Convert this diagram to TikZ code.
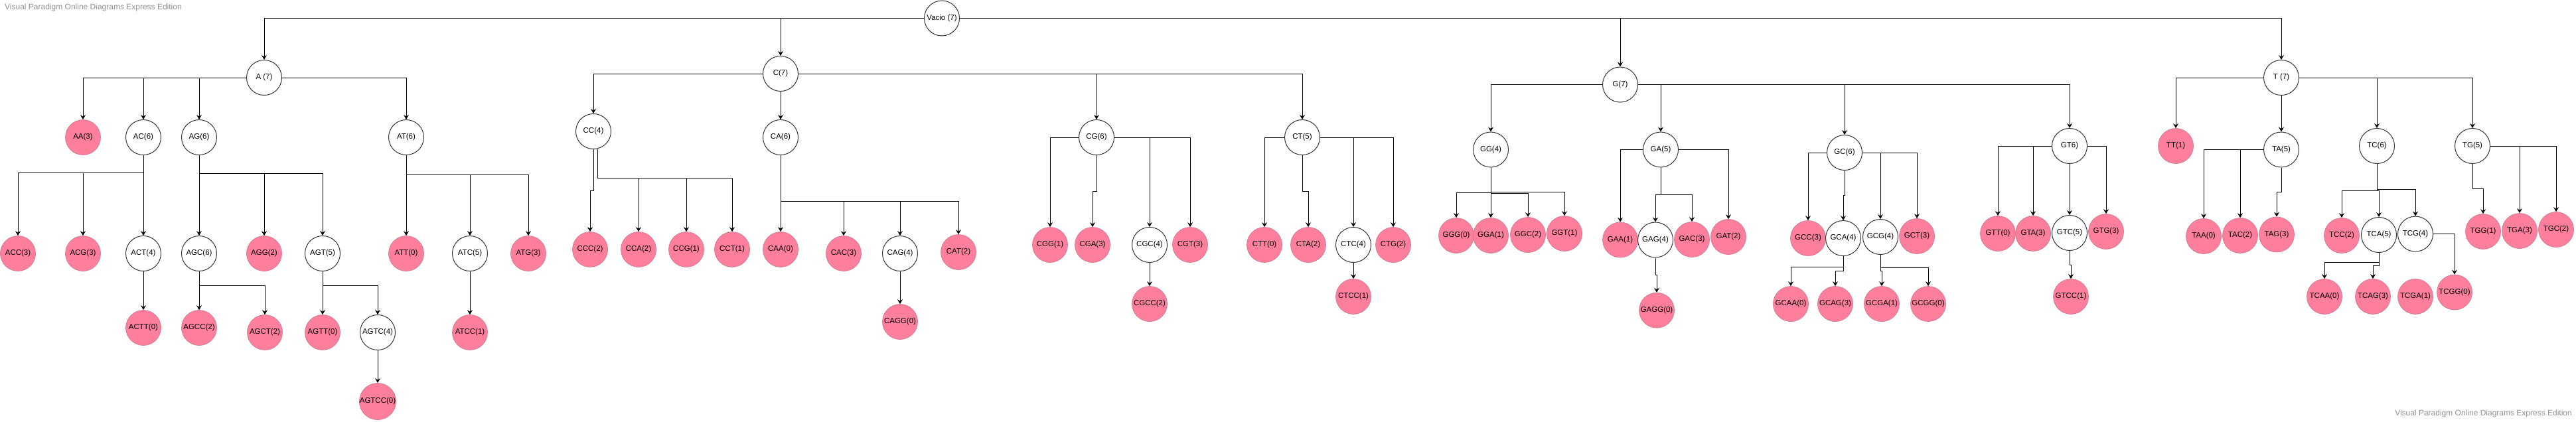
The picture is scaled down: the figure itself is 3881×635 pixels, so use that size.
\documentclass[tikz,border=0pt]{standalone}
\usepackage{fontspec}
\setmainfont{Liberation Sans}
\usetikzlibrary{arrows.meta}
\definecolor{pinkfill}{RGB}{254,127,156}
\definecolor{pinkdraw}{RGB}{205,120,145}
\definecolor{wmgray}{RGB}{145,145,145}
\begin{document}
\begin{tikzpicture}[x=1pt,y=-1pt,
  wn/.style={circle, draw=black!80, line width=1pt, fill=white, minimum size=53pt, inner sep=0pt, font=\fontsize{11.5}{12}\selectfont},
  pn/.style={wn, fill=pinkfill, draw=pinkdraw, line width=0.7pt},
  arr/.style={-{Stealth[length=7pt,width=8pt,inset=2.5pt]}, line width=0.9pt},
  bus/.style={to path={-- ++(0,#1) -| (\tikztotarget)}},
  wmark/.style={text=wmgray, font=\fontsize{12}{13}\selectfont, inner sep=0pt}]
\fill[white] (0,0) rectangle (3881,635);
\useasboundingbox (0,0) rectangle (3881,635);
\node[wmark, anchor=west] (wm1) at (7,11) {Visual Paradigm Online Diagrams Express Edition};
\node[wmark, anchor=east] (wm2) at (3875,623) {Visual Paradigm Online Diagrams Express Edition};
% root and level 1
\node[wn] (V) at (1419,27.5) {Vacio (7)};
\node[wn] (A) at (398,117) {A (7)};
\node[wn] (C) at (1176,111) {C(7)};
\node[wn] (G) at (2441,127.5) {G(7)};
\node[wn] (T) at (3437,117) {T (7)};
% A subtree
\node[pn] (AA) at (125,207) {AA(3)};
\node[wn] (AC) at (216,207) {AC(6)};
\node[wn] (AG) at (300,207) {AG(6)};
\node[wn] (AT) at (612,207) {AT(6)};
\node[pn] (ACC) at (27,382) {ACC(3)};
\node[pn] (ACG) at (125,382) {ACG(3)};
\node[wn] (ACT) at (216,382) {ACT(4)};
\node[wn] (AGC) at (300,382) {AGC(6)};
\node[pn] (AGG) at (398,382) {AGG(2)};
\node[wn] (AGT) at (486,382) {AGT(5)};
\node[pn] (ACTT) at (216,494) {ACTT(0)};
\node[pn] (AGCC) at (300,494) {AGCC(2)};
\node[pn] (AGCT) at (399,501) {AGCT(2)};
\node[pn] (AGTT) at (486,501) {AGTT(0)};
\node[wn] (AGTC) at (569,501) {AGTC(4)};
\node[pn] (AGTCC) at (569,605) {AGTCC(0)};
\node[pn] (ATT) at (612,382) {ATT(0)};
\node[wn] (ATC) at (708,382) {ATC(5)};
\node[pn] (ATG) at (796,382) {ATG(3)};
\node[pn] (ATCC) at (708,501) {ATCC(1)};
% C subtree
\node[wn] (CC) at (894,198) {CC(4)};
\node[wn] (CA) at (1176,207) {CA(6)};
\node[wn] (CG) at (1652,207) {CG(6)};
\node[wn] (CT) at (1962,207) {CT(5)};
\node[pn] (CCC) at (889,376) {CCC(2)};
\node[pn] (CCA) at (962,376) {CCA(2)};
\node[pn] (CCG) at (1034,376) {CCG(1)};
\node[pn] (CCT) at (1103,376) {CCT(1)};
\node[pn] (CAA) at (1176,376) {CAA(0)};
\node[pn] (CAC) at (1271,382) {CAC(3)};
\node[wn] (CAG) at (1356,382) {CAG(4)};
\node[pn] (CAT) at (1444,380) {CAT(2)};
\node[pn] (CAGG) at (1356,485) {CAGG(0)};
\node[pn] (CGG) at (1582,369) {CGG(1)};
\node[pn] (CGA) at (1646,369) {CGA(3)};
\node[wn] (CGC) at (1732,369) {CGC(4)};
\node[pn] (CGT) at (1793,369) {CGT(3)};
\node[pn] (CGCC) at (1732,458) {CGCC(2)};
\node[pn] (CTT) at (1905,369) {CTT(0)};
\node[pn] (CTA) at (1971,369) {CTA(2)};
\node[wn] (CTC) at (2039,369) {CTC(4)};
\node[pn] (CTG) at (2099,369) {CTG(2)};
\node[pn] (CTCC) at (2039,447) {CTCC(1)};
% G subtree
\node[wn] (GG) at (2246,225.5) {GG(4)};
\node[pn] (GGG) at (2194,355) {GGG(0)};
\node[pn] (GGA) at (2246,355) {GGA(1)};
\node[pn] (GGC) at (2302,354) {GGC(2)};
\node[pn] (GGT) at (2357,352) {GGT(1)};
\node[wn] (GA) at (2502,225.5) {GA(5)};
\node[pn] (GAA) at (2441,361.5) {GAA(1)};
\node[wn] (GAG) at (2494,361.5) {GAG(4)};
\node[pn] (GAC) at (2549,361) {GAC(3)};
\node[pn] (GAT) at (2604,357) {GAT(2)};
\node[pn] (GAGG) at (2496,467.6) {GAGG(0)};
\node[wn] (GC) at (2779,230) {GC(6)};
\node[pn] (GCC) at (2724,359) {GCC(3)};
\node[wn] (GCA) at (2777,359) {GCA(4)};
\node[wn] (GCG) at (2833,357) {GCG(4)};
\node[pn] (GCT) at (2888,356) {GCT(3)};
\node[pn] (GCAA) at (2698,458) {GCAA(0)};
\node[pn] (GCAG) at (2765,458) {GCAG(3)};
\node[pn] (GCGA) at (2835,458) {GCGA(1)};
\node[pn] (GCGG) at (2905,458) {GCGG(0)};
\node[wn] (GT) at (3118,220) {GT6)};
\node[pn] (GTT) at (3010,352) {GTT(0)};
\node[pn] (GTA) at (3063,352) {GTA(3)};
\node[wn] (GTC) at (3118,351) {GTC(5)};
\node[pn] (GTG) at (3173,349) {GTG(3)};
\node[pn] (GTCC) at (3120,447) {GTCC(1)};
% T subtree
\node[pn] (TT) at (3278,220) {TT(1)};
\node[wn] (TA) at (3437,225.5) {TA(5)};
\node[pn] (TAA) at (3320,356) {TAA(0)};
\node[pn] (TAC) at (3375,355) {TAC(2)};
\node[pn] (TAG) at (3430,353.5) {TAG(3)};
\node[wn] (TC) at (3581,220) {TC(6)};
\node[pn] (TCC) at (3528,355) {TCC(2)};
\node[wn] (TCA) at (3584,354) {TCA(5)};
\node[wn] (TCG) at (3639,352.6) {TCG(4)};
\node[pn] (TCAA) at (3502,447) {TCAA(0)};
\node[pn] (TCAG) at (3575,447) {TCAG(3)};
\node[pn] (TCGA) at (3639,447) {TCGA(1)};
\node[pn] (TCGG) at (3698,440.5) {TCGG(0)};
\node[wn] (TG) at (3725,220) {TG(5)};
\node[pn] (TGG) at (3741,349) {TGG(1)};
\node[pn] (TGA) at (3796,348) {TGA(3)};
\node[pn] (TGC) at (3851,346) {TGC(2)};
% ---- connectors ----
\draw[arr] (V.west) -| (A);
\draw[arr] (V.west) -| (C);
\draw[arr] (V.east) -| (G);
\draw[arr] (V.east) -| (T);
% A
\draw[arr] (A.west) -| (AA);
\draw[arr] (A.west) -| (AC);
\draw[arr] (A.west) -| (AG);
\draw[arr] (A.east) -| (AT);
\draw[arr] (AC) to[bus=53] (ACC);
\draw[arr] (AC) to[bus=53] (ACG);
\draw[arr] (AC) -- (ACT);
\draw[arr] (ACT) -- (ACTT);
\draw[arr] (AG) -- (AGC);
\draw[arr] (AG) to[bus=54] (AGG);
\draw[arr] (AG) to[bus=54] (AGT);
\draw[arr] (AGC) -- (AGCC);
\draw[arr] (AGC) to[bus=48] (AGCT);
\draw[arr] (AGT) -- (AGTT);
\draw[arr] (AGT) to[bus=48] (AGTC);
\draw[arr] (AGTC) -- (AGTCC);
\draw[arr] (AT) -- (ATT);
\draw[arr] (AT) to[bus=56.5] (ATC);
\draw[arr] (AT) to[bus=56.5] (ATG);
\draw[arr] (ATC) -- (ATCC);
% C
\draw[arr] (C.west) -| (CC);
\draw[arr] (C) -- (CA);
\draw[arr] (C.east) -| (CG);
\draw[arr] (C.east) -| (CT);
\draw[arr] (CC) to[bus=89] (CCC);
\draw[arr] ([xshift=6pt]CC.south) to[bus=43.5] (CCA);
\draw[arr] ([xshift=6pt]CC.south) to[bus=43.5] (CCG);
\draw[arr] ([xshift=6pt]CC.south) to[bus=43.5] (CCT);
\draw[arr] (CA) -- (CAA);
\draw[arr] (CA) to[bus=96] (CAC);
\draw[arr] (CA) to[bus=96] (CAG);
\draw[arr] (CA) to[bus=96] (CAT);
\draw[arr] (CAG) -- (CAGG);
\draw[arr] (CG.west) -| (CGG);
\draw[arr] (CG) to[bus=81] (CGA);
\draw[arr] (CG.east) -| (CGC);
\draw[arr] (CG.east) -| (CGT);
\draw[arr] (CGC) -- (CGCC);
\draw[arr] (CT.west) -| (CTT);
\draw[arr] (CT) to[bus=81] (CTA);
\draw[arr] (CT.east) -| (CTC);
\draw[arr] (CT.east) -| (CTG);
\draw[arr] (CTC) -- (CTCC);
% G
\draw[arr] (G.west) -| (GG);
\draw[arr] (G.east) -| (GA);
\draw[arr] (G.east) -| (GC);
\draw[arr] (G.east) -| (GT);
\draw[arr] (GG) to[bus=64.5] (GGG);
\draw[arr] (GG) -- (GGA);
\draw[arr] (GG) to[bus=65.5] (GGC);
\draw[arr] (GG) to[bus=64] (GGT);
\draw[arr] (GA.west) -| (GAA);
\draw[arr] (GA) to[bus=68] (GAG);
\draw[arr] (GA) to[bus=68] (GAC);
\draw[arr] (GA.east) -| (GAT);
\draw[arr] (GAG) to[bus=52.5] (GAGG);
\draw[arr] (GC.west) -| (GCC);
\draw[arr] (GC) to[bus=64] (GCA);
\draw[arr] (GC.east) -| (GCG);
\draw[arr] (GC.east) -| (GCT);
\draw[arr] (GCA) to[bus=43] (GCAA);
\draw[arr] (GCA) to[bus=49] (GCAG);
\draw[arr] (GCG) to[bus=51] (GCGA);
\draw[arr] (GCG) to[bus=46.6] (GCGG);
\draw[arr] (GT.west) -| (GTT);
\draw[arr] (GT.west) -| (GTA);
\draw[arr] (GT) -- (GTC);
\draw[arr] (GT.east) -| (GTG);
\draw[arr] (GTC) to[bus=48] (GTCC);
% T
\draw[arr] (T.west) -| (TT);
\draw[arr] (T) -- (TA);
\draw[arr] (T.east) -| (TC);
\draw[arr] (T.east) -| (TG);
\draw[arr] (TA.west) -| (TAA);
\draw[arr] (TA.west) -| (TAC);
\draw[arr] (TA) to[bus=63.5] (TAG);
\draw[arr] (TC) to[bus=67.4] (TCC);
\draw[arr] (TC) to[bus=67.4] (TCA);
\draw[arr] (TC) to[bus=65] (TCG);
\draw[arr] (TCA) to[bus=41.5] (TCAA);
\draw[arr] (TCA) to[bus=46] (TCAG);
\draw[arr] (TCG.east) -| (TCGG);
\draw[arr] (TG) to[bus=64] (TGG);
\draw[arr] (TG.east) -| (TGA);
\draw[arr] (TG.east) -| (TGC);
\end{tikzpicture}
\end{document}
